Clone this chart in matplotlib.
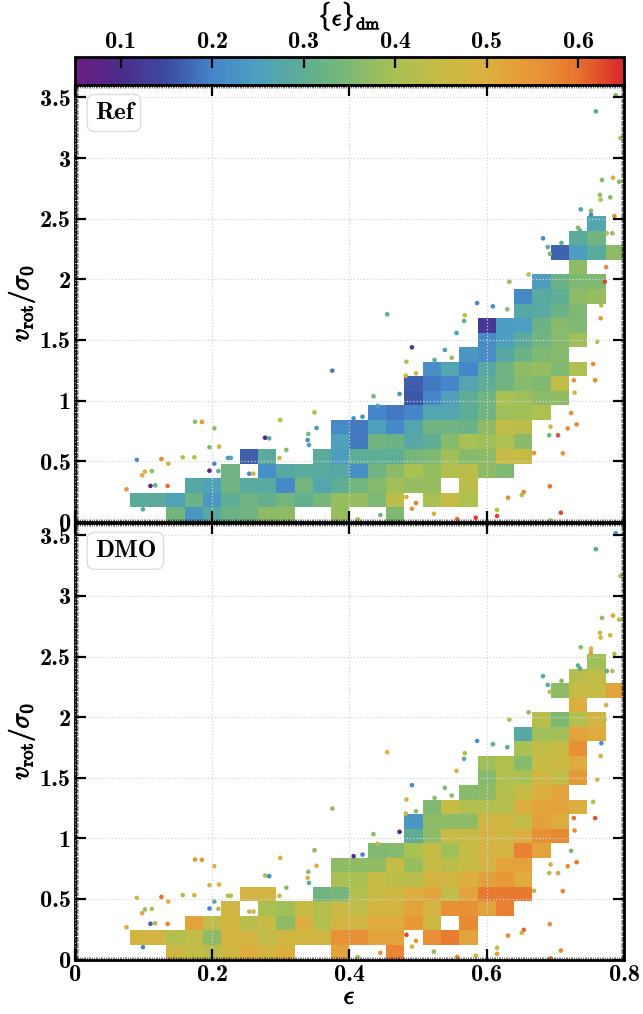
import numpy as np
import matplotlib
matplotlib.use('Agg')
import matplotlib.pyplot as plt
import matplotlib.patheffects as pe
from matplotlib.colors import LinearSegmentedColormap
from matplotlib.ticker import MultipleLocator, FuncFormatter

plt.rcParams['font.family'] = 'cmb10'
plt.rcParams['mathtext.fontset'] = 'cm'
plt.rcParams['axes.unicode_minus'] = False

nan = np.nan

# colour scale for the mean dm ellipticity
cmap_colors = ['#6b1d83', '#4b2c8a', '#3d4c9f', '#4486c9', '#4d9fbf', '#5eae94', '#7db874',
               '#a9c053', '#c6bb45', '#dcaf40', '#e89738', '#e8742e', '#d8282a']
vmin, vmax = 0.05, 0.65
cbar_ticks = [0.1, 0.2, 0.3, 0.4, 0.5, 0.6]

# 30 x 30 bins over eps in [0, 0.8] and v/sigma in [0, 3.6]
nbins = 30
eps_range = (0, 0.8)
vs_range = (0, 3.6)

# first filled column of every row (same galaxies in both runs)
row_start = [5, 3, 6, 8, 9, 14, 14, 16, 18, 18, 19, 21, 22, 22, 24, 24, 25, 27, 26, 27, 28]

ref_rows = [
    [0.335, 0.235, 0.285, 0.32, 0.33, 0.37, 0.37, nan, nan, 0.38, nan, nan, 0.35],
    [0.29, 0.29, 0.26, 0.32, 0.235, 0.30, 0.33, 0.31, 0.335, 0.31, 0.34, 0.38, 0.38, 0.35, 0.43, nan, 0.40, 0.45, 0.41],
    [0.28, 0.26, 0.33, 0.285, 0.285, 0.205, 0.335, 0.27, 0.30, 0.335, 0.36, 0.39, 0.38, 0.38, nan, 0.43],
    [0.33, nan, 0.22, 0.28, 0.29, 0.285, 0.28, 0.215, 0.33, 0.365, 0.40, 0.38, 0.415, 0.43, 0.37, 0.35],
    [0.165, 0.29, nan, nan, 0.29, 0.245, 0.30, 0.30, 0.30, 0.34, 0.35, 0.39, 0.36, 0.37, 0.45, 0.45],
    [0.255, 0.19, 0.33, 0.32, 0.28, 0.30, 0.36, 0.40, 0.39, 0.41, 0.365],
    [0.21, 0.19, 0.255, 0.205, 0.27, 0.33, 0.33, 0.32, 0.37, 0.44, 0.43],
    [0.20, 0.19, 0.20, 0.27, 0.27, 0.30, 0.33, 0.39, 0.39, 0.41],
    [0.16, 0.20, 0.255, 0.30, 0.33, 0.40, 0.39, 0.37, 0.37],
    [0.165, 0.19, 0.20, 0.27, 0.30, 0.33, 0.36, 0.35, 0.44],
    [0.215, 0.27, 0.20, 0.28, 0.33, 0.37, 0.38, 0.35, 0.41],
    [0.235, 0.215, 0.28, 0.32, 0.35, 0.36],
    [0.21, 0.245, 0.29, 0.33, 0.36, 0.39],
    [0.12, 0.245, 0.25, 0.32, 0.365, 0.35],
    [0.28, 0.285, 0.32, 0.35],
    [0.205, 0.285, 0.30, 0.37, 0.38],
    [0.245, 0.32, 0.35, 0.35],
    [0.37],
    [0.17, 0.245, 0.29, 0.37],
    [0.29, 0.33],
    [0.27],
]

dmo_rows = [
    [0.47, 0.44, 0.425, 0.47, 0.50, 0.48, 0.50, nan, nan, 0.525, nan, nan, 0.575],
    [0.48, 0.48, 0.415, 0.44, 0.37, 0.48, 0.48, 0.44, 0.47, 0.47, 0.47, 0.555, 0.56, 0.525, 0.525, nan, 0.56, 0.585, 0.525],
    [0.525, 0.44, 0.47, 0.425, 0.45, 0.37, 0.50, 0.415, 0.48, 0.47, 0.51, 0.51, 0.545, 0.47, nan, 0.57],
    [0.47, nan, 0.40, 0.39, 0.45, 0.415, 0.455, 0.44, 0.48, 0.48, 0.525, 0.48, 0.56, 0.56, 0.525, 0.58],
    [0.48, 0.48, nan, nan, 0.33, 0.34, 0.415, 0.45, 0.47, 0.50, 0.525, 0.44, 0.525, 0.59, 0.59, 0.59],
    [0.40, 0.40, 0.45, 0.43, 0.425, 0.48, 0.47, 0.50, 0.53, 0.545, 0.51],
    [0.37, 0.37, 0.37, 0.45, 0.38, 0.45, 0.425, 0.45, 0.48, 0.525, 0.525],
    [0.35, 0.36, 0.40, 0.45, 0.39, 0.45, 0.48, 0.48, 0.58, 0.525],
    [0.30, 0.37, 0.45, 0.45, 0.48, 0.47, 0.50, 0.56, 0.57],
    [0.235, 0.37, 0.37, 0.37, 0.47, 0.47, 0.44, 0.53, 0.51],
    [0.35, 0.45, 0.415, 0.415, 0.415, 0.50, 0.525, 0.525, 0.50],
    [0.36, 0.37, 0.415, 0.45, 0.50, 0.525],
    [0.36, 0.415, 0.40, 0.47, 0.44, 0.545],
    [0.39, 0.415, 0.36, 0.45, 0.46, 0.51],
    [0.40, 0.44, 0.45, 0.56],
    [0.28, 0.39, 0.39, 0.525, 0.51],
    [0.425, 0.35, 0.415, 0.48],
    [0.50],
    [0.37, 0.45, 0.45, 0.525],
    [0.425, 0.44],
    [0.39],
]

# galaxies in sparse bins, drawn one by one
pt_eps = [0.075, 0.090, 0.098, 0.102, 0.099, 0.110, 0.117, 0.112, 0.126, 0.135,
          0.136, 0.157, 0.174, 0.175, 0.185, 0.196, 0.203, 0.203, 0.196, 0.209,
          0.210, 0.223, 0.227, 0.254, 0.260, 0.277, 0.283, 0.299, 0.298, 0.308,
          0.349, 0.340, 0.339, 0.341, 0.352, 0.412, 0.445, 0.406, 0.419, 0.435,
          0.441, 0.473, 0.483, 0.709, 0.689, 0.692, 0.774, 0.772, 0.661, 0.633,
          0.767, 0.766, 0.586, 0.609, 0.630, 0.455, 0.568, 0.567, 0.556, 0.761,
          0.491, 0.539, 0.524, 0.549, 0.483, 0.755, 0.497, 0.482, 0.375, 0.727,
          0.758, 0.728, 0.723, 0.693, 0.731, 0.718, 0.691, 0.704, 0.669, 0.711,
          0.692, 0.654, 0.651, 0.631, 0.497, 0.491, 0.523, 0.557, 0.584, 0.615,
          0.615, 0.708, 0.693, 0.788, 0.759, 0.795, 0.784, 0.768, 0.793, 0.765,
          0.766, 0.780, 0.737, 0.752, 0.752, 0.786, 0.733, 0.736, 0.775, 0.783,
          0.682]
pt_vs = [0.267, 0.509, 0.383, 0.413, 0.102, 0.295, 0.300, 0.418, 0.517, 0.295,
         0.479, 0.531, 0.531, 0.825, 0.823, 0.614, 0.770, 0.479, 0.421, 0.418,
         0.619, 0.526, 0.526, 0.396, 0.396, 0.693, 0.688, 0.839, 0.526, 0.592,
         0.902, 0.724, 0.674, 0.633, 0.773, 0.020, 0.055, 0.853, 0.866, 1.035,
         0.955, 1.054, 0.204, 2.300, 2.266, 2.210, 2.100, 1.980, 2.040, 1.980,
         1.785, 1.678, 1.804, 1.777, 1.752, 1.711, 1.703, 1.656, 1.557, 1.485,
         1.439, 1.417, 1.334, 1.353, 1.320, 1.301, 1.224, 1.205, 1.246, 1.167,
         1.167, 1.065, 0.897, 0.784, 0.803, 0.770, 0.713, 0.713, 0.567, 0.564,
         0.292, 0.245, 0.220, 0.198, 0.154, 0.107, 0.066, 0.022, 0.033, 0.097,
         0.047, 0.074, 0.010, 3.518, 3.386, 3.166, 2.838, 2.819, 2.805, 2.696,
         2.657, 2.676, 2.577, 2.566, 2.533, 2.522, 2.426, 2.401, 2.380, 2.380,
         2.338]
pt_ref = [0.55, 0.20, 0.50, 0.46, 0.28, 0.07, 0.33, 0.37, 0.57, 0.60,
          0.50, 0.42, 0.41, 0.37, 0.55, 0.35, 0.38, 0.20, 0.07, 0.30,
          0.46, 0.24, 0.27, 0.21, 0.50, 0.10, 0.28, 0.41, 0.47, 0.36,
          0.42, 0.34, 0.22, 0.25, 0.23, 0.46, 0.34, 0.22, 0.22, 0.34,
          0.25, 0.23, 0.50, 0.31, 0.30, 0.35, 0.56, 0.63, 0.41, 0.37,
          0.42, 0.55, 0.21, 0.21, 0.36, 0.30, 0.46, 0.30, 0.25, 0.43,
          0.12, 0.25, 0.30, 0.38, 0.42, 0.57, 0.48, 0.47, 0.19, 0.56,
          0.57, 0.45, 0.56, 0.50, 0.57, 0.57, 0.33, 0.62, 0.55, 0.56,
          0.60, 0.57, 0.42, 0.57, 0.59, 0.56, 0.47, 0.60, 0.63, 0.40,
          0.63, 0.63, 0.40, 0.36, 0.29, 0.41, 0.51, 0.36, 0.37, 0.37,
          0.41, 0.36, 0.26, 0.37, 0.21, 0.56, 0.36, 0.29, 0.41, 0.37,
          0.21]
pt_dmo = [0.50, 0.47, 0.52, 0.38, 0.20, 0.17, 0.42, 0.41, 0.60, 0.58,
          0.50, 0.40, 0.47, 0.55, 0.55, 0.47, 0.50, 0.28, 0.20, 0.41,
          0.50, 0.42, 0.42, 0.42, 0.50, 0.40, 0.22, 0.49, 0.47, 0.37,
          0.37, 0.36, 0.48, 0.29, 0.50, 0.42, 0.56, 0.12, 0.20, 0.37,
          0.43, 0.07, 0.63, 0.37, 0.28, 0.41, 0.50, 0.42, 0.37, 0.41,
          0.22, 0.47, 0.22, 0.29, 0.29, 0.47, 0.42, 0.29, 0.50, 0.46,
          0.21, 0.35, 0.37, 0.36, 0.46, 0.42, 0.37, 0.47, 0.37, 0.60,
          0.62, 0.57, 0.35, 0.50, 0.59, 0.57, 0.42, 0.52, 0.42, 0.58,
          0.56, 0.61, 0.46, 0.57, 0.56, 0.47, 0.37, 0.57, 0.46, 0.43,
          0.54, 0.57, 0.59, 0.25, 0.28, 0.41, 0.53, 0.37, 0.42, 0.46,
          0.47, 0.47, 0.37, 0.50, 0.54, 0.41, 0.30, 0.28, 0.29, 0.42,
          0.28]


cmap = LinearSegmentedColormap.from_list('eps_dm', cmap_colors)
x_edges = np.linspace(eps_range[0], eps_range[1], nbins + 1)
y_edges = np.linspace(vs_range[0], vs_range[1], nbins + 1)


def to_grid(rows):
    grid = np.full((nbins, nbins), np.nan)
    for j, (s, vals) in enumerate(zip(row_start, rows)):
        grid[j, s:s + len(vals)] = vals
    return np.ma.masked_invalid(grid)


bold = [pe.withStroke(linewidth=0.7, foreground='black')]
fmt = FuncFormatter(lambda v, p: '%g' % v)
tick_fs = 17.5

fig = plt.figure(figsize=(6.43, 10.14), dpi=100)
cax = fig.add_axes([0.1166, 0.9162, 0.8538, 0.0276])
ax1 = fig.add_axes([0.1166, 0.4855, 0.8538, 0.4303])
ax2 = fig.add_axes([0.1166, 0.0537, 0.8538, 0.4303])

for ax, rows, cols, name in [(ax1, ref_rows, pt_ref, 'Ref'), (ax2, dmo_rows, pt_dmo, 'DMO')]:
    mesh = ax.pcolormesh(x_edges, y_edges, to_grid(rows), cmap=cmap, vmin=vmin, vmax=vmax,
                         antialiased=False, linewidth=0)
    ax.scatter(pt_eps, pt_vs, c=cols, cmap=cmap, vmin=vmin, vmax=vmax, s=11, linewidths=0)

    ax.set_xlim(eps_range)
    ax.set_ylim(vs_range)
    ax.xaxis.set_major_locator(MultipleLocator(0.2))
    ax.yaxis.set_major_locator(MultipleLocator(0.5))
    ax.xaxis.set_minor_locator(MultipleLocator(0.0025))
    ax.yaxis.set_minor_locator(MultipleLocator(0.01))
    ax.xaxis.set_major_formatter(fmt)
    ax.yaxis.set_major_formatter(fmt)
    ax.tick_params(which='both', direction='in', top=True, right=True)
    ax.tick_params(which='major', length=8, width=1.6, labelsize=tick_fs, pad=3)
    ax.tick_params(which='minor', length=2.5, width=0.4)
    ax.grid(True, which='major', color='#d4d4d4', ls=':', lw=0.9)
    ax.set_axisbelow(False)
    for s in ax.spines.values():
        s.set_linewidth(2)

    ax.text(0.036, 0.962, name, transform=ax.transAxes, ha='left', va='top', fontsize=18,
            bbox=dict(boxstyle='round,pad=0.3', fc='white', ec='#dcdcdc', lw=1), zorder=5)
    ax.set_ylabel(r'$v_{\rm rot}/\sigma_0$', fontsize=19, labelpad=2, path_effects=bold)

ax1.tick_params(labelbottom=False)
ax2.set_xlabel(r'$\epsilon$', fontsize=19, labelpad=0, path_effects=bold)

cb = fig.colorbar(mesh, cax=cax, orientation='horizontal')
cax.xaxis.set_ticks_position('top')
cax.xaxis.set_label_position('top')
cb.set_ticks(cbar_ticks)
cb.ax.xaxis.set_major_formatter(fmt)
cax.tick_params(direction='in', length=8, width=1.6, labelsize=tick_fs, top=True, bottom=False, pad=3)
cax.minorticks_off()
cb.set_label(r'$\{\epsilon\}_{\rm dm}$', fontsize=17, labelpad=4, path_effects=bold)
cb.outline.set_linewidth(2)

plt.savefig('out.png', dpi=100)
